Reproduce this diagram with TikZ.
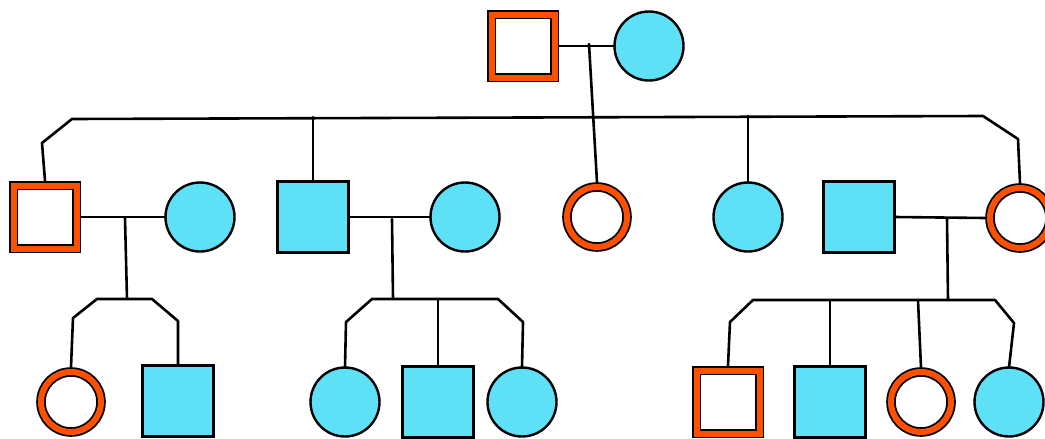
\documentclass[tikz,border=0pt]{standalone}
\definecolor{aff}{RGB}{94,224,247}
\definecolor{carr}{RGB}{255,80,0}
\begin{document}
\begin{tikzpicture}[x=1pt,y=1pt,
  link/.style={draw=black, line width=2.6pt, line join=round, line cap=round},
  affsq/.style={rectangle, draw=black, fill=aff, line width=2.4pt, minimum size=71pt, inner sep=0pt, outer sep=0pt},
  affci/.style={circle, draw=black, fill=aff, line width=2.4pt, minimum size=69pt, inner sep=0pt, outer sep=0pt},
  carsq/.style={rectangle, draw=black, line width=1.8pt, double=carr, double distance=6pt, fill=white, minimum size=63pt, inner sep=0pt, outer sep=4.8pt},
  carci/.style={circle, draw=black, line width=1.8pt, double=carr, double distance=6pt, fill=white, minimum size=60pt, inner sep=0pt, outer sep=4.8pt}]
\useasboundingbox (0,0) rectangle (1045,-439);
% generation I
\node[carsq] (F) at (523,-46) {};
\node[affci] (M) at (649,-46) {};
% generation II
\node[carsq] (A1) at (45,-217) {};
\node[affci] (A2) at (200,-217) {};
\node[affsq] (A3) at (313,-217) {};
\node[affci] (A4) at (465,-217) {};
\node[carci] (A5) at (597,-217) {};
\node[affci] (A6) at (748,-217) {};
\node[affsq] (A7) at (859,-217) {};
\node[carci] (A8) at (1020,-218) {};
% generation III
\node[carci] (B1) at (71,-402) {};
\node[affsq] (B2) at (178,-401) {};
\node[affci] (B3) at (345,-402) {};
\node[affsq] (B4) at (438,-402) {};
\node[affci] (B5) at (522,-402) {};
\node[carsq] (B6) at (728,-402) {};
\node[affsq] (B7) at (830,-402) {};
\node[carci] (B8) at (921,-402) {};
\node[affci] (B9) at (1009,-402) {};
% coordinates
\coordinate (m0) at (589,-44);
\coordinate (s0a) at (42,-143);
\coordinate (s0b) at (72,-119);
\coordinate (s0c) at (983,-116);
\coordinate (s0d) at (1018,-139);
\coordinate (s0x3) at (313,-117);
\coordinate (s0x6) at (748,-116);
\coordinate (m1) at (125,-218);
\coordinate (f1) at (127,-299);
\coordinate (s1a) at (73,-318);
\coordinate (s1b) at (97,-299);
\coordinate (s1c) at (152,-299);
\coordinate (s1d) at (178,-321);
\coordinate (m2) at (392,-219);
\coordinate (f2) at (393,-299);
\coordinate (s2a) at (346,-322);
\coordinate (s2b) at (372,-299);
\coordinate (s2c) at (498,-299);
\coordinate (s2d) at (523,-322);
\coordinate (s2x) at (438,-299);
\coordinate (m3) at (947,-218);
\coordinate (f3) at (948,-300);
\coordinate (s3a) at (730,-322);
\coordinate (s3b) at (753,-300);
\coordinate (s3c) at (995,-300);
\coordinate (s3d) at (1014,-323);
\coordinate (s3x7) at (830,-300);
\coordinate (s3x8) at (918,-300);
% connectors
\draw[link] (F.east) -- (M.west);
\draw[link] (m0) -- (A5.north);
\draw[link] (A1.north) -- (s0a) -- (s0b) -- (s0c) -- (s0d) -- (A8.north);
\draw[link] (s0x3) -- (A3.north);
\draw[link] (s0x6) -- (A6.north);
\draw[link] (A1.east) -- (A2.west);
\draw[link] (m1) -- (f1);
\draw[link] (B1.north) -- (s1a) -- (s1b) -- (s1c) -- (s1d) -- (B2.north);
\draw[link] (A3.east) -- (A4.west);
\draw[link] (m2) -- (f2);
\draw[link] (B3.north) -- (s2a) -- (s2b) -- (s2c) -- (s2d) -- (B5.north);
\draw[link] (s2x) -- (B4.north);
\draw[link] (A7.east) -- (A8.west);
\draw[link] (m3) -- (f3);
\draw[link] (B6.north) -- (s3a) -- (s3b) -- (s3c) -- (s3d) -- (B9.north);
\draw[link] (s3x7) -- (B7.north);
\draw[link] (s3x8) -- (B8.north);
\end{tikzpicture}
\end{document}
